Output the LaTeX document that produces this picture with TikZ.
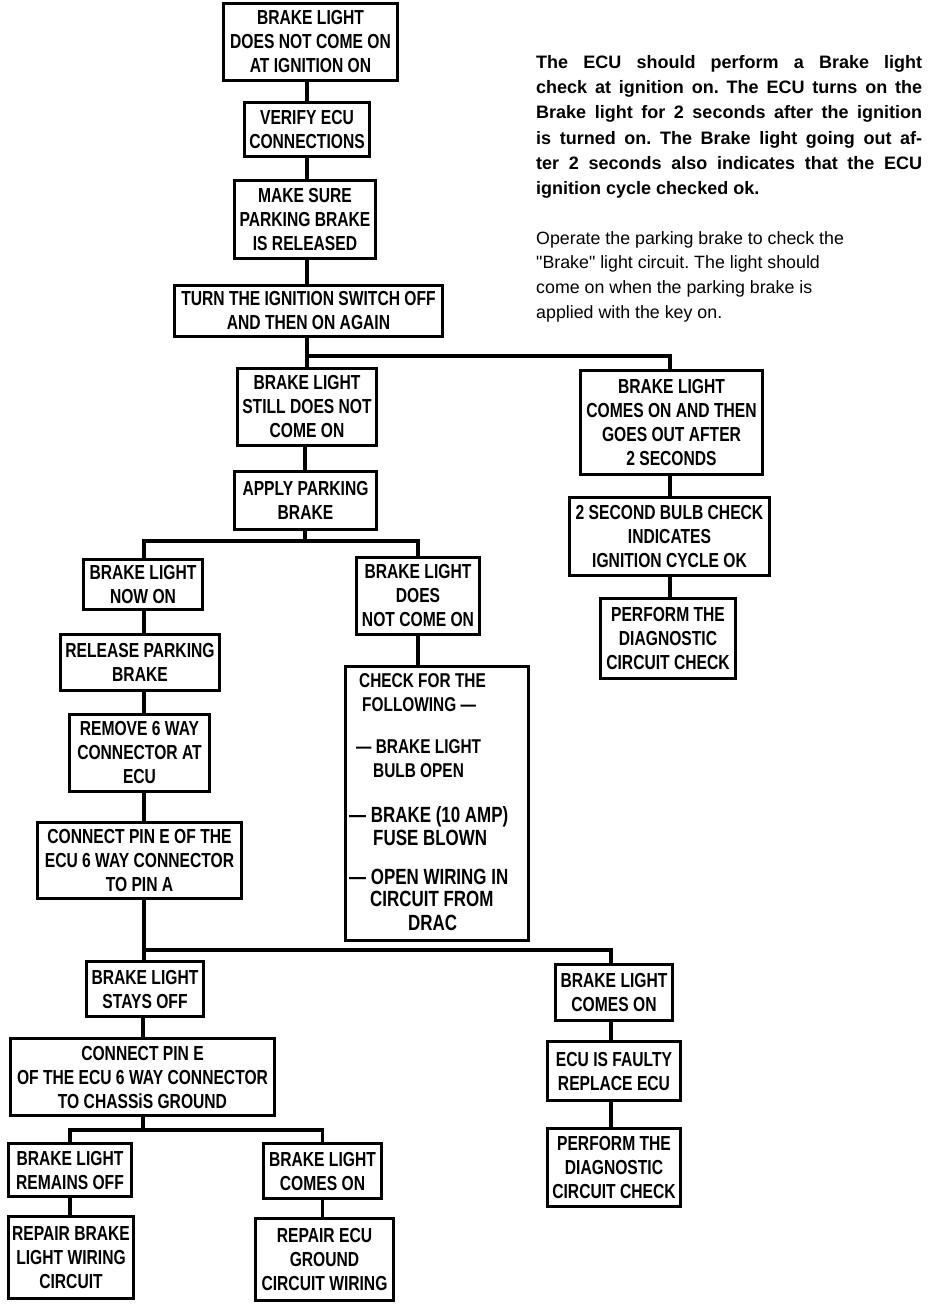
\documentclass[tikz,border=0pt]{standalone}
\usepackage{fontspec}
\setmainfont{Liberation Sans}
\newfontfamily\bxf[FakeStretch=0.77]{Liberation Sans}
\newfontfamily\pf{Liberation Sans}
\frenchspacing
\tikzset{
  box/.style={draw, line width=3.4pt, inner sep=0pt, align=center,
    font=\bxf\bfseries\fontsize{20.3}{24}\selectfont},
  conn/.style={line width=3.2pt},
  itm/.style={anchor=base west, inner sep=0pt, font=\bxf\bfseries\fontsize{20}{24}\selectfont},
  itmb/.style={anchor=base west, inner sep=0pt, font=\bxf\bfseries\fontsize{22}{26}\selectfont},
  bpar/.style={anchor=base west, inner sep=0pt, font=\pf\bfseries\fontsize{18}{25}\selectfont},
  rpar/.style={anchor=base west, inner sep=0pt, font=\pf\fontsize{17.8}{25}\selectfont},
}
\begin{document}
\begin{tikzpicture}[x=1pt,y=-1pt]
\fill[white] (0,0) rectangle (944,1306);
\useasboundingbox (0,0) rectangle (944,1306);

% named trunk coordinates
\coordinate (tx) at (307,0);
\coordinate (lx) at (144,0);
\coordinate (rx) at (611,0);
\coordinate (cx) at (670,0);

% top column
\node[box, minimum width=174pt, minimum height=77pt] (b1) at (310.5,42) {BRAKE LIGHT\\DOES NOT COME ON\\AT IGNITION ON};
\node[box, minimum width=125pt, minimum height=54pt] (b2) at (307,129.5) {VERIFY ECU\\CONNECTIONS};
\node[box, minimum width=141pt, minimum height=78pt] (b3) at (305,219.5) {MAKE SURE\\PARKING BRAKE\\IS RELEASED};
\node[box, minimum width=268pt, minimum height=51pt] (b4) at (308.5,311) {TURN THE IGNITION SWITCH OFF\\AND THEN ON AGAIN};

\node[box, minimum width=139pt, minimum height=77pt] (b5) at (307,407) {BRAKE LIGHT\\STILL DOES NOT\\COME ON};
\node[box, minimum width=142pt, minimum height=58pt] (b6) at (305.5,500.5) {APPLY PARKING\\BRAKE};
\node[box, minimum width=119pt, minimum height=50pt] (b7) at (143,584.5) {BRAKE LIGHT\\NOW ON};
\node[box, minimum width=123pt, minimum height=77pt] (b8) at (418,596) {BRAKE LIGHT\\DOES\\NOT COME ON};
\node[box, minimum width=159pt, minimum height=56pt] (b9) at (140,662.5) {RELEASE PARKING\\BRAKE};
\node[box, minimum width=140pt, minimum height=77pt] (b10) at (139.5,753) {REMOVE 6 WAY\\CONNECTOR AT\\ECU};
\node[box, minimum width=204pt, minimum height=76pt] (b11) at (139.5,860.5) {CONNECT PIN E OF THE\\ECU 6 WAY CONNECTOR\\TO PIN A};

% check list box
\node[draw, line width=3.4pt, inner sep=0pt, minimum width=183pt, minimum height=274pt] (b12) at (437,803.5) {};
\node[itm] (c1) at (359,687) {CHECK FOR THE};
\node[itm] (c2) at (362,711) {FOLLOWING —};
\node[itm] (c3) at (356,753) {— BRAKE LIGHT};
\node[itm] (c4) at (373,777) {BULB OPEN};
\node[itmb] (c5) at (349,822) {— BRAKE (10 AMP)};
\node[itmb] (c6) at (373,845) {FUSE BLOWN};
\node[itmb] (c7) at (349,884) {— OPEN WIRING IN};
\node[itmb] (c8) at (370,906) {CIRCUIT FROM};
\node[itmb] (c9) at (408,930) {DRAC};

% lower left
\node[box, minimum width=117pt, minimum height=55pt] (b13) at (145,989) {BRAKE LIGHT\\STAYS OFF};
\node[box, minimum width=117pt, minimum height=56pt] (b14) at (614,992.5) {BRAKE LIGHT\\COMES ON};
\node[box, minimum width=264pt, minimum height=77pt] (b15) at (142.5,1077) {CONNECT PIN E\\OF THE ECU 6 WAY CONNECTOR\\TO CHASSiS GROUND};
\node[box, minimum width=133pt, minimum height=59pt] (b16) at (614,1071) {ECU IS FAULTY\\REPLACE ECU};
\node[box, minimum width=133pt, minimum height=78pt] (b17) at (614,1167.5) {PERFORM THE\\DIAGNOSTIC\\CIRCUIT CHECK};
\node[box, minimum width=123pt, minimum height=53pt] (b18) at (70,1170) {BRAKE LIGHT\\REMAINS OFF};
\node[box, minimum width=118pt, minimum height=55pt] (b19) at (322.5,1171) {BRAKE LIGHT\\COMES ON};
\node[box, minimum width=125pt, minimum height=82pt] (b20) at (71,1257.5) {REPAIR BRAKE\\LIGHT WIRING\\CIRCUIT};
\node[box, minimum width=138pt, minimum height=82pt] (b21) at (324.5,1259.5) {REPAIR ECU\\GROUND\\CIRCUIT WIRING};

% right column
\node[box, minimum width=182pt, minimum height=104pt] (b22) at (671.5,422.5) {BRAKE LIGHT\\COMES ON AND THEN\\GOES OUT AFTER\\2 SECONDS};
\node[box, minimum width=200pt, minimum height=78pt] (b23) at (669.5,536.5) {2 SECOND BULB CHECK\\INDICATES\\IGNITION CYCLE OK};
\node[box, minimum width=135pt, minimum height=80pt] (b24) at (668,638.5) {PERFORM THE\\DIAGNOSTIC\\CIRCUIT CHECK};

% junction points
\coordinate (j1) at (307,356);
\coordinate (j2) at (305,541);
\coordinate (j3) at (144,950);
\coordinate (j4) at (143,1130);

% connectors
\draw[conn] (b1.south -| tx) -- (b2.north -| tx);
\draw[conn] (b2.south -| tx) -- (b3.north -| tx);
\draw[conn] (b3.south -| tx) -- (b4.north -| tx);
\draw[conn] (b4.south -| j1) -- (j1) -- (j1 |- b5.north);
\draw[conn] (j1) -- (j1 -| cx) -- (b22.north -| cx);
\draw[conn] (b5.south -| j2) -- (b6.north -| j2);
\draw[conn] (b6.south -| j2) -- (j2);
\draw[conn] (b7.north -| lx) -- (j2 -| lx) -- (j2 -| b8.north) -- (b8.north);
\draw[conn] (b7.south -| lx) -- (b9.north -| lx);
\draw[conn] (b9.south -| lx) -- (b10.north -| lx);
\draw[conn] (b10.south -| lx) -- (b11.north -| lx);
\draw[conn] (b8.south) -- (b8.south |- b12.north);
\draw[conn] (b11.south -| j3) -- (j3) -- (j3 |- b13.north);
\draw[conn] (j3) -- (j3 -| rx) -- (b14.north -| rx);
\draw[conn] (b14.south -| rx) -- (b16.north -| rx);
\draw[conn] (b16.south -| rx) -- (b17.north -| rx);
\draw[conn] (b13.south -| j4) -- (b15.north -| j4);
\draw[conn] (b15.south -| j4) -- (j4);
\draw[conn] (b18.north) -- (b18.north |- j4) -- (b19.north |- j4) -- (b19.north);
\draw[conn] (b18.south) -- (b18.south |- b20.north);
\draw[conn] (b19.south) -- (b19.south |- b21.north);
\draw[conn] (b22.south -| cx) -- (b23.north -| cx);
\draw[conn] (b23.south -| cx) -- (b24.north -| cx);

% notes
\node[bpar] (p1) at (536,68) {\makebox[386pt][s]{The ECU should perform a Brake light}};
\node[bpar] (p2) at (536,93.5) {\makebox[386pt][s]{check at ignition on. The ECU turns on the}};
\node[bpar] (p3) at (536,118.8) {\makebox[386pt][s]{Brake light for 2 seconds after the ignition}};
\node[bpar] (p4) at (536,144) {\makebox[386pt][s]{is turned on. The Brake light going out af-}};
\node[bpar] (p5) at (536,169.3) {\makebox[386pt][s]{ter 2 seconds also indicates that the ECU}};
\node[bpar] (p6) at (536,194.6) {ignition cycle checked ok.};

\node[rpar] (q1) at (536,244) {Operate the parking brake to check the};
\node[rpar] (q2) at (536,268.7) {"Brake" light circuit. The light should};
\node[rpar] (q3) at (536,293.4) {come on when the parking brake is};
\node[rpar] (q4) at (536,318) {applied with the key on.};
\end{tikzpicture}
\end{document}
